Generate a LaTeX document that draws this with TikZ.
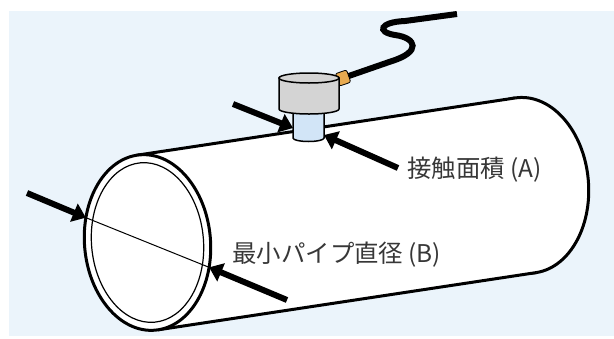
\documentclass[tikz,border=0pt]{standalone}
\usepackage{fontspec}
\newfontfamily\jpfont{Noto Sans CJK JP}
\usetikzlibrary{arrows.meta}
\definecolor{bgblue}{RGB}{235,244,251}
\definecolor{headgray}{RGB}{212,212,212}
\definecolor{probeblue}{RGB}{210,229,247}
\definecolor{plugorange}{RGB}{232,170,80}
\definecolor{txtgray}{RGB}{55,55,55}
\begin{document}
\begin{tikzpicture}[x=0.5pt, y=-0.5pt,
  pipeline/.style={line width=1.5pt},
  bigarrow/.style={line width=3pt, -{Triangle[length=6.5pt,width=9.5pt]}},
  cable/.style={line width=3pt},
  plug/.style={draw, line width=0.4pt, fill=plugorange, minimum width=6pt, minimum height=6.5pt, inner sep=0pt, rounded corners=1pt},
  lbl/.style={font=\jpfont\fontsize{12.2}{14}\selectfont, text=txtgray, inner sep=0pt, anchor=west}]
\useasboundingbox (0,0) rectangle (614,338);
\fill[bgblue] (9,11) rectangle (614,336);
% far end of the pipe
\begin{scope}[shift={(525.5,185.3)}, rotate=5]
\draw[pipeline, fill=white] (0,0) ellipse [x radius=63, y radius=88];
\coordinate (tr) at (-2.91,-87.9);
\coordinate (br) at (2.91,87.9);
\end{scope}
\begin{scope}[shift={(147.5,242.5)}, rotate=5]
\coordinate (tl) at (-2.91,-87.9);
\coordinate (bl) at (2.91,87.9);
\coordinate (dl) at (200:63 and 88);
\coordinate (dr) at (20:63 and 88);
\end{scope}
\fill[white] (tl) -- (tr) -- (br) -- (bl) -- cycle;
\draw[pipeline] (tl) -- (tr);
\draw[pipeline] (bl) -- (br);
% near end, with the wall
\begin{scope}[shift={(147.5,242.5)}, rotate=5]
\draw[pipeline, fill=white] (0,0) ellipse [x radius=63, y radius=88];
\draw[line width=0.6pt] (0,0) ellipse [x radius=56, y radius=80];
\end{scope}
\draw[line width=0.5pt] (dl) -- (dr);
% sensor
\coordinate (plugc) at (343,78);
\coordinate (cableend) at (457,14);
\draw[cable] (plugc) -- (392,61) .. controls (421,52) and (417,38) .. (395,35) .. controls (376,32) and (380,22) .. (405,21) -- (cableend);
\node[plug, rotate=19] (plug) at (plugc) {};
\draw[line width=0.75pt, fill=probeblue] (293,108) -- (293,138) arc[start angle=180, end angle=0, x radius=15.5, y radius=3.5] -- (324,108) -- cycle;
\draw[line width=0.75pt, fill=headgray] (279,78) -- (279,109) arc[start angle=180, end angle=0, x radius=30, y radius=5] -- (339,78) -- cycle;
\draw[line width=0.75pt, fill=headgray] (309,78) ellipse [x radius=30, y radius=5];
\coordinate (pl) at (293,128);
\coordinate (pr) at (324,135);
% arrows
\coordinate (a1) at (233,104);
\coordinate (a2) at (398,168);
\coordinate (a3) at (27,193);
\coordinate (a4) at (287,300);
\draw[bigarrow] (a1) -- (pl);
\draw[bigarrow] (a2) -- (pr);
\draw[bigarrow] (a3) -- (dl);
\draw[bigarrow] (a4) -- (dr);
% labels
\draw(407,170) node[lbl] (A) {接触面積 (A)};
\draw(232,255) node[lbl] (B) {最小パイプ直径 (B)};
\end{tikzpicture}
\end{document}
